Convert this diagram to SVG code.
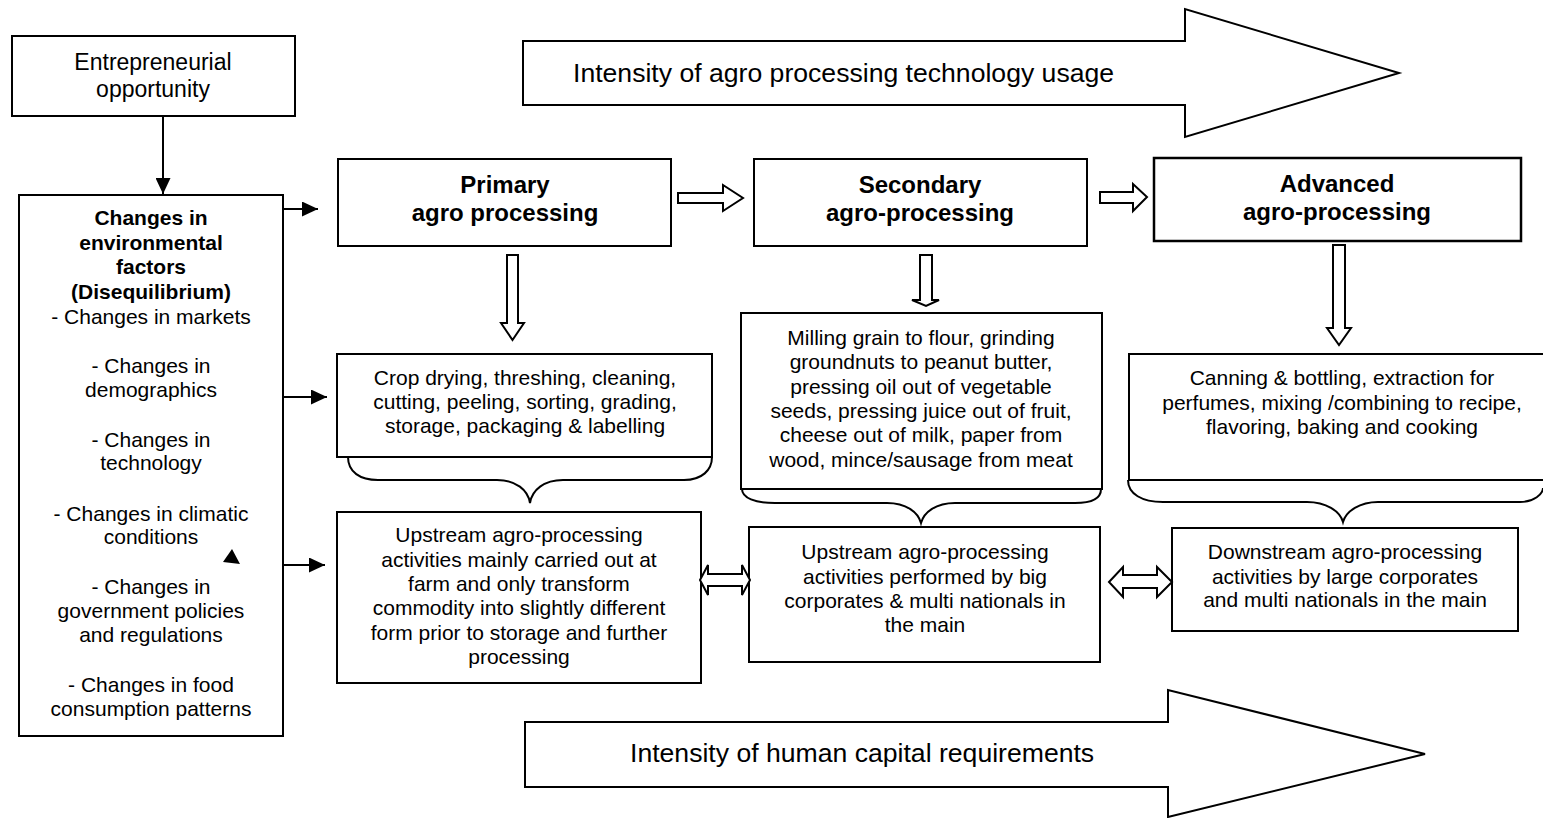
<svg xmlns="http://www.w3.org/2000/svg" width="1543" height="818" viewBox="0 0 1543 818">
<defs>
<marker id="ah" markerWidth="16" markerHeight="15" refX="16" refY="7.5" orient="auto" markerUnits="userSpaceOnUse">
<path d="M0,0 L16,7.5 L0,15 Z" fill="#000"/>
</marker>
<style>
.box{fill:#fff;stroke:#000;stroke-width:2}
.hol{fill:#fff;stroke:#000;stroke-width:2;stroke-linejoin:miter}
.ln{fill:none;stroke:#000;stroke-width:2}
text{font-family:"Liberation Sans",Arial,sans-serif;fill:#000}
.t{font-size:21px;text-anchor:middle}
.b{font-size:21px;font-weight:bold;text-anchor:middle}
.h{font-size:24px;font-weight:bold;text-anchor:middle}
.e{font-size:23px;text-anchor:middle}
.big{font-size:26.6px}
</style>
</defs>
<rect width="1543" height="818" fill="#fff"/>

<g id="arrow-tech">
<polygon class="hol" points="523,41 1185,41 1185,9 1399,73 1185,137 1185,105 523,105"/>
<text class="big" x="573" y="82">Intensity of agro processing technology usage</text>
</g>

<g id="arrow-human">
<polygon class="hol" points="525,722 1168,722 1168,690 1425,754 1168,817 1168,787 525,787"/>
<text class="big" x="630" y="762">Intensity of human capital requirements</text>
</g>

<g id="entrepreneurial">
<rect class="box" x="12" y="36" width="283" height="80"/>
<text class="e" x="153" y="70">Entrepreneurial</text>
<text class="e" x="153" y="97">opportunity</text>
</g>

<g id="changes">
<rect class="box" x="19" y="195" width="264" height="541"/>
<text class="b" x="151" y="225">Changes in</text>
<text class="b" x="151" y="250">environmental</text>
<text class="b" x="151" y="274">factors</text>
<text class="b" x="151" y="299">(Disequilibrium)</text>
<text class="t" x="151" y="324">- Changes in markets</text>
<text class="t" x="151" y="373">- Changes in</text>
<text class="t" x="151" y="397">demographics</text>
<text class="t" x="151" y="447">- Changes in</text>
<text class="t" x="151" y="470">technology</text>
<text class="t" x="151" y="521">- Changes in climatic</text>
<text class="t" x="151" y="544">conditions</text>
<text class="t" x="151" y="594">- Changes in</text>
<text class="t" x="151" y="618">government policies</text>
<text class="t" x="151" y="642">and regulations</text>
<text class="t" x="151" y="692">- Changes in food</text>
<text class="t" x="151" y="716">consumption patterns</text>
<polygon points="232,549 223,562 240,564" fill="#000"/>
</g>

<g id="primary">
<rect class="box" x="338" y="159" width="333" height="87"/>
<text class="h" x="505" y="193">Primary</text>
<text class="h" x="505" y="221">agro processing</text>
</g>

<g id="secondary">
<rect class="box" x="754" y="159" width="333" height="87"/>
<text class="h" x="920" y="193">Secondary</text>
<text class="h" x="920" y="221">agro-processing</text>
</g>

<g id="advanced">
<rect class="box" x="1154" y="158" width="367" height="83" style="stroke-width:2.5"/>
<text class="h" x="1337" y="192">Advanced</text>
<text class="h" x="1337" y="220">agro-processing</text>
</g>

<g id="primary-activities">
<rect class="box" x="337" y="354" width="375" height="103"/>
<text class="t" x="525" y="385">Crop drying, threshing, cleaning,</text>
<text class="t" x="525" y="409">cutting, peeling, sorting, grading,</text>
<text class="t" x="525" y="433">storage, packaging &amp; labelling</text>
</g>

<g id="secondary-activities">
<rect class="box" x="741" y="313" width="361" height="176"/>
<text class="t" x="921" y="345">Milling grain to flour, grinding</text>
<text class="t" x="921" y="369">groundnuts to peanut butter,</text>
<text class="t" x="921" y="394">pressing oil out of vegetable</text>
<text class="t" x="921" y="418">seeds, pressing juice out of fruit,</text>
<text class="t" x="921" y="442">cheese out of milk, paper from</text>
<text class="t" x="921" y="467">wood, mince/sausage from meat</text>
</g>

<g id="advanced-activities">
<rect class="box" x="1129" y="354" width="420" height="126"/>
<text class="t" x="1342" y="385">Canning &amp; bottling, extraction for</text>
<text class="t" x="1342" y="410">perfumes, mixing /combining to recipe,</text>
<text class="t" x="1342" y="434">flavoring, baking and cooking</text>
</g>

<g id="upstream-primary">
<rect class="box" x="337" y="512" width="364" height="171"/>
<text class="t" x="519" y="542">Upstream agro-processing</text>
<text class="t" x="519" y="567">activities mainly carried out at</text>
<text class="t" x="519" y="591">farm and only transform</text>
<text class="t" x="519" y="615">commodity into slightly different</text>
<text class="t" x="519" y="640">form prior to storage and further</text>
<text class="t" x="519" y="664">processing</text>
</g>

<g id="upstream-secondary">
<rect class="box" x="749" y="527" width="351" height="135"/>
<text class="t" x="925" y="559">Upstream agro-processing</text>
<text class="t" x="925" y="584">activities performed by big</text>
<text class="t" x="925" y="608">corporates &amp; multi nationals in</text>
<text class="t" x="925" y="632">the main</text>
</g>

<g id="downstream">
<rect class="box" x="1172" y="528" width="346" height="103"/>
<text class="t" x="1345" y="559">Downstream agro-processing</text>
<text class="t" x="1345" y="584">activities by large corporates</text>
<text class="t" x="1345" y="607">and multi nationals in the main</text>
</g>

<g id="connectors">
<line class="ln" x1="163" y1="116" x2="163" y2="194" marker-end="url(#ah)"/>
<line class="ln" x1="284" y1="209" x2="318" y2="209" marker-end="url(#ah)"/>
<line class="ln" x1="284" y1="397" x2="327" y2="397" marker-end="url(#ah)"/>
<line class="ln" x1="284" y1="565" x2="325" y2="565" marker-end="url(#ah)"/>
<polygon class="hol" points="678,193 723,193 723,185 743,198 723,211 723,203 678,203"/>
<polygon class="hol" points="1100,192 1133,192 1133,184 1147,197 1133,211 1133,203 1100,203"/>
<polygon class="hol" points="507,255 518,255 518,323 524,323 512.5,340 501,323 507,323"/>
<polygon class="hol" points="920,255 932,255 932,300 939,300 926,306 912,300 920,300"/>
<polygon class="hol" points="1333,245 1345,245 1345,328 1351,328 1339,345 1327,328 1333,328"/>
<path class="ln" d="M348,457 C348,472 360,480 378,480 L497,480 C516,480 528,490 530,503 C532,490 544,480 563,480 L684,480 C702,480 712,470 712,457"/>
<path class="ln" d="M742,489 C742,498 755,503 775,503 L887,503 C906,503 918,512 921,523 C924,512 936,503 955,503 L1075,503 C1092,503 1101,498 1101,489"/>
<path class="ln" d="M1128,480 C1128,494 1142,502 1163,502 L1307,502 C1326,502 1340,511 1343,522 C1346,511 1360,502 1378,502 L1520,502 C1534,502 1543,494 1543,488"/>
<polygon class="hol" points="700,580 708,565 708,574 742,574 742,565 750,580 742,595 742,586 708,586 708,595"/>
<polygon class="hol" points="1109,582 1123,567 1123,575 1157,575 1157,567 1172,582 1157,597 1157,588 1123,588 1123,597"/>
</g>
</svg>
